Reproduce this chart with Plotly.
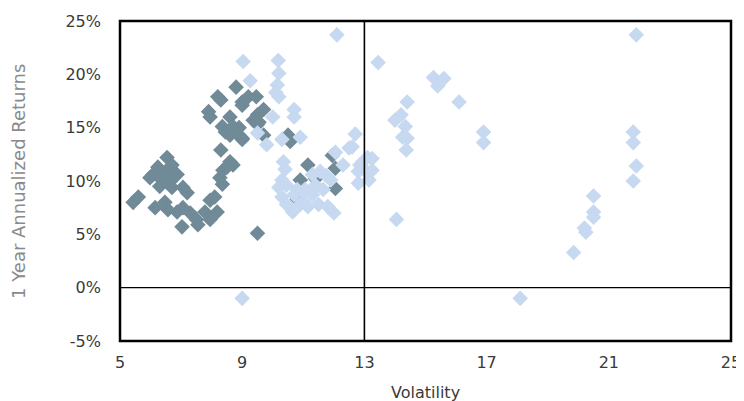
import plotly.graph_objects as go

# volatility / 1-year return (%)
dark_vol = [5.43, 5.6, 5.98, 6.08, 6.24, 6.37, 6.47, 6.54, 6.7, 6.87, 6.63, 6.3, 6.7, 7.06, 7.2,
            6.15, 6.47, 6.57, 6.87, 7.06, 7.3, 7.03, 7.5, 7.55, 7.78, 7.95, 8.1, 7.95, 8.18,
            8.37, 8.27, 8.5, 8.35, 8.6, 8.7, 8.3,
            7.9, 7.95, 8.2, 8.3, 8.6, 8.8, 9.0, 9.2, 9.46, 9.0, 9.5, 9.7, 9.36, 9.55, 8.7, 8.35,
            8.45, 8.6, 8.9, 9.0, 9.7, 9.5, 8.9, 9.0, 10.5, 9.5,
            10.57, 11.95, 11.15, 12.05, 10.9, 12.05, 10.8, 11.4]
dark_ret = [8.0, 8.5, 10.3, 10.6, 11.3, 10.1, 10.8, 12.2, 11.5, 10.6, 9.9, 9.5, 9.4, 9.4, 8.9,
            7.5, 8.0, 7.3, 7.1, 7.5, 7.0, 5.7, 6.4, 5.9, 7.1, 8.2, 8.5, 6.4, 7.1,
            11.0, 10.3, 11.3, 9.7, 11.8, 11.5, 12.9,
            16.5, 16.0, 17.9, 17.6, 16.0, 18.8, 17.4, 17.9, 17.9, 17.1, 16.2, 16.7, 15.7, 15.5, 15.1, 15.1,
            14.6, 14.3, 15.0, 14.0, 14.3, 15.3, 14.3, 13.9, 14.3, 5.1,
            13.7, 12.4, 11.5, 11.2, 10.1, 9.3, 8.3, 10.2]

light_vol = [9.03, 10.18, 10.2, 9.26, 10.15, 10.1, 10.2, 10.7, 10.7, 10.0, 9.5, 10.9, 9.8, 10.3,
             12.1, 13.45, 9.0, 12.7, 12.6, 12.05, 12.5,
             10.35, 10.4, 10.3, 10.2, 10.45, 10.3, 10.7, 10.45, 10.65, 10.9, 10.8, 11.0, 11.15,
             11.3, 11.5, 11.65, 11.55, 11.8, 11.9, 11.75, 11.3, 11.05, 11.4, 12.0, 12.3,
             12.95, 13.1, 12.8, 13.1, 12.8, 13.15, 13.25, 13.25, 12.85,
             15.26, 15.6, 15.4, 14.4, 16.1, 14.2, 14.0, 14.34, 14.25, 14.4, 14.37, 16.9, 16.9,
             14.05, 21.9, 21.8, 21.8, 21.9, 21.8, 20.5, 20.5, 20.5, 20.2, 20.25, 19.85, 18.1]
light_ret = [21.2, 21.3, 20.1, 19.4, 19.0, 18.3, 17.9, 16.7, 16.0, 16.0, 14.5, 14.1, 13.4, 13.9,
             23.7, 21.1, -1.0, 14.4, 13.2, 12.7, 13.1,
             11.8, 11.1, 10.1, 9.4, 9.6, 8.5, 8.7, 7.8, 7.1, 7.8, 9.2, 8.1, 7.6,
             8.7, 7.8, 9.2, 10.9, 7.6, 10.1, 10.5, 10.6, 9.2, 9.6, 7.0, 11.5,
             11.8, 12.2, 10.9, 10.8, 9.8, 10.1, 12.1, 11.0, 11.5,
             19.7, 19.6, 18.9, 17.4, 17.4, 16.2, 15.7, 15.1, 14.1, 14.0, 12.9, 14.6, 13.6,
             6.4, 23.7, 14.6, 13.6, 11.4, 10.0, 8.6, 7.1, 6.6, 5.6, 5.2, 3.3, -1.0]

x_ticks = [5, 9, 13, 17, 21, 25]
y_ticks = [-5, 0, 5, 10, 15, 20, 25]

fig = go.Figure()
fig.add_trace(go.Scatter(x=dark_vol, y=dark_ret, mode="markers", cliponaxis=False,
                         marker=dict(symbol="diamond", size=12, color="#708A97")))
fig.add_trace(go.Scatter(x=light_vol, y=light_ret, mode="markers", cliponaxis=False,
                         marker=dict(symbol="diamond", size=12, color="#C6D9F1")))

# Excel-style crossing axes at 13 / 0%, plus plot area border
fig.add_vline(x=13, line_width=1.6, line_color="black")
fig.add_hline(y=0, line_width=1.4, line_color="black")
fig.add_shape(type="rect", xref="paper", yref="paper", x0=0, y0=0, x1=1, y1=1,
              line=dict(color="black", width=2.5))

tick_font = dict(family="DejaVu Sans", size=16, color="#3a3a3a")
fig.update_xaxes(range=[5, 25], tickvals=x_ticks, showgrid=False, zeroline=False,
                 showline=False, tickfont=tick_font, ticklabelstandoff=10, automargin=False)
fig.update_yaxes(range=[-5, 25], tickvals=y_ticks, ticktext=[f"{v}%" for v in y_ticks],
                 showgrid=False, zeroline=False, showline=False, tickfont=tick_font,
                 ticklabelstandoff=18, automargin=False)

fig.add_annotation(text="1 Year Annualized Returns", xref="paper", yref="paper",
                   x=-0.167, y=0.5, xanchor="center", yanchor="middle", textangle=-90,
                   showarrow=False, font=dict(family="DejaVu Sans", size=18, color="#8a8a8a"))
fig.add_annotation(text="Volatility", xref="paper", yref="paper", x=0.5, y=-0.16,
                   xanchor="center", yanchor="middle", showarrow=False,
                   font=dict(family="DejaVu Sans", size=16, color="#3a3a3a"))

# page has an 8px body margin, so the figure is drawn 8px smaller and shifted
fig.update_layout(width=736, height=393, showlegend=False,
                  plot_bgcolor="white", paper_bgcolor="white",
                  margin=dict(l=112, r=13, t=13, b=60))
fig.write_html("out.html")
